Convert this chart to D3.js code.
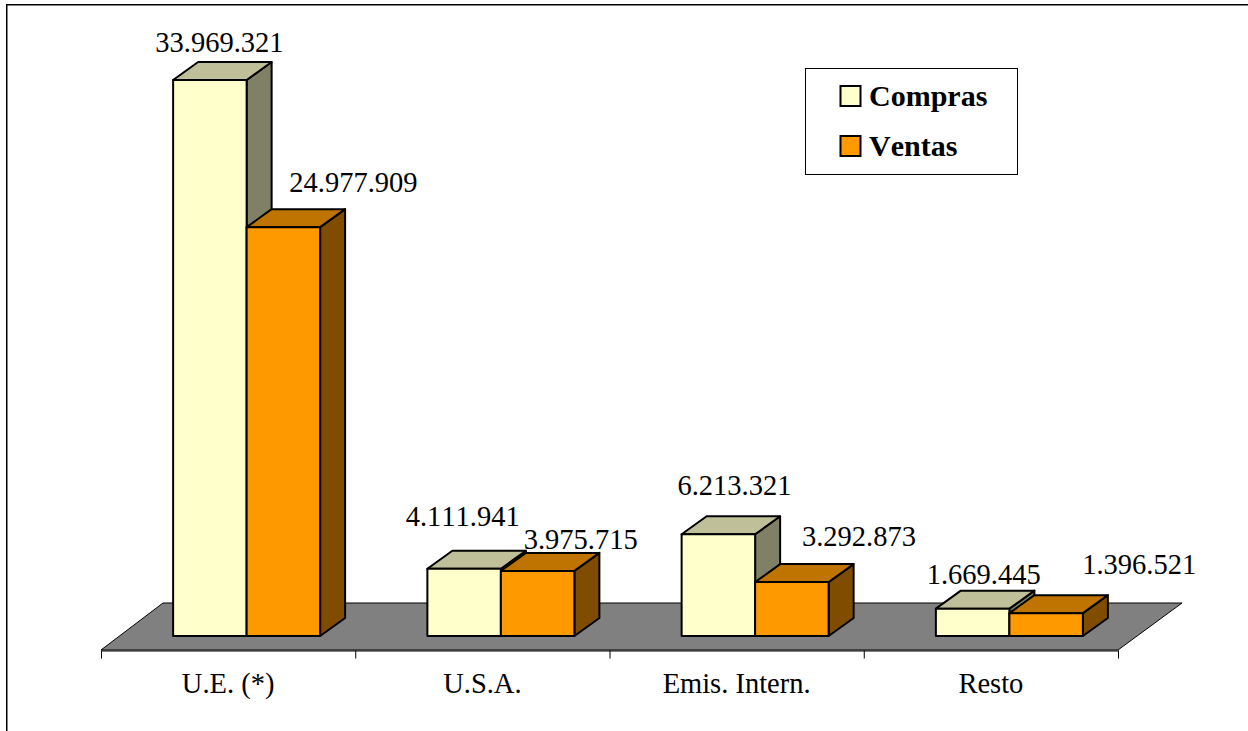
<!DOCTYPE html>
<html>
<head>
<meta charset="utf-8">
<script src="https://cdn.jsdelivr.net/npm/d3@7"></script>
<style>
  html, body { margin: 0; padding: 0; background: #fff; }
  svg { display: block; font-family: "Liberation Serif", serif; font-kerning: none; }
</style>
</head>
<body>
<svg id="chart" width="1248" height="731"></svg>
<script>
var categories = ["U.E. (*)", "U.S.A.", "Emis. Intern.", "Resto"];
var compras = [33969321, 4111941, 6213321, 1669445];
var ventas = [24977909, 3975715, 3292873, 1396521];
var comprasLabels = ["33.969.321", "4.111.941", "6.213.321", "1.669.445"];
var ventasLabels = ["24.977.909", "3.975.715", "3.292.873", "1.396.521"];
var seriesNames = ["Compras", "Ventas"];

// label offsets from the front face top centre, moved by hand like in the original
var comprasNudge = [[9.5, -28], [-1.5, -43], [16, -39], [11, -25]];
var ventasNudge = [[70, -35], [43, -22], [67, -36], [93, -39]];

var depthX = 25;
var depthY = 18;
var baseY = 636;

var colors = [
  { front: "#FFFFCC", top: "#BFBF99", side: "#808066" },
  { front: "#FF9900", top: "#BF7300", side: "#804D00" }
];

var svg = d3.select("#chart");

// frame
svg.append("path")
  .attr("d", "M6.75,731V4.75H1248")
  .attr("fill", "none")
  .attr("stroke", "#000")
  .attr("stroke-width", 1.5);

var x = d3.scaleBand().domain(categories).range([101, 1118]);
var edges = d3.scaleLinear().domain([0, categories.length]).range([101, 1118]);
var y = d3.scaleLinear().domain([0, 33969321]).range([baseY, 80]);
var barWidth = 73.5;
var barOffset = (x.bandwidth() - 2 * barWidth) / 2 + 18.5;

// floor
svg.append("path")
  .attr("d", d3.line()([[101, 650], [163, 603], [1182, 603], [1118, 650]]) + "Z")
  .attr("fill", "#808080")
  .attr("stroke", "#000")
  .attr("stroke-width", 1);

// category axis: ticks on the band edges, names in the band centres
svg.append("g")
  .attr("transform", "translate(0,650.5)")
  .call(d3.axisBottom(edges).tickValues(d3.range(categories.length + 1)).tickFormat("").tickSize(8).tickSizeOuter(0))
  .call(function (g) { g.selectAll("line").attr("stroke", "#000"); g.select(".domain").attr("stroke", "#000"); });

svg.append("g")
  .attr("transform", "translate(0,650)")
  .call(d3.axisBottom(x).tickSize(0).tickPadding(23))
  .call(function (g) {
    g.select(".domain").remove();
    g.selectAll("text")
      .attr("font-family", "Liberation Serif")
      .attr("font-size", 28.5)
      .attr("fill", "#000");
  });

function barLeft(i, s) {
  return x(categories[i]) + barOffset + s * barWidth;
}

function drawBar(g, i, s, v) {
  var x0 = barLeft(i, s);
  var x1 = x0 + barWidth;
  var yt = y(v);
  var c = colors[s];
  g.append("path")
    .attr("d", d3.line()([[x1, yt], [x1 + depthX, yt - depthY], [x1 + depthX, baseY - depthY], [x1, baseY]]) + "Z")
    .attr("fill", c.side);
  g.append("path")
    .attr("d", d3.line()([[x0, yt], [x0 + depthX, yt - depthY], [x1 + depthX, yt - depthY], [x1, yt]]) + "Z")
    .attr("fill", c.top);
  g.append("rect")
    .attr("x", x0)
    .attr("y", yt)
    .attr("width", barWidth)
    .attr("height", baseY - yt)
    .attr("fill", c.front);
}

var barsG = svg.append("g")
  .attr("stroke", "#000")
  .attr("stroke-width", 2)
  .attr("stroke-linejoin", "round");

// draw back to front so that the orange bar sits over the yellow side
categories.forEach(function (d, i) {
  drawBar(barsG, i, 0, compras[i]);
  drawBar(barsG, i, 1, ventas[i]);
});

// value labels
function addLabels(values, labels, nudge, s) {
  svg.append("g")
    .selectAll("text")
    .data(values)
    .enter()
    .append("text")
    .attr("x", function (d, i) { return barLeft(i, s) + barWidth / 2 + nudge[i][0]; })
    .attr("y", function (d, i) { return y(d) + nudge[i][1]; })
    .attr("text-anchor", "middle")
    .attr("font-size", 28.5)
    .attr("fill", "#000")
    .text(function (d, i) { return labels[i]; });
}
addLabels(compras, comprasLabels, comprasNudge, 0);
addLabels(ventas, ventasLabels, ventasNudge, 1);

// legend
var legend = svg.append("g");
legend.append("rect")
  .attr("x", 805.5)
  .attr("y", 68.5)
  .attr("width", 212)
  .attr("height", 106)
  .attr("fill", "#fff")
  .attr("stroke", "#000")
  .attr("stroke-width", 1);

var legendY = d3.scalePoint().domain(seriesNames).range([96, 146]);

seriesNames.forEach(function (name, s) {
  legend.append("rect")
    .attr("x", 840.5)
    .attr("y", legendY(name) - 10)
    .attr("width", 20)
    .attr("height", 20)
    .attr("fill", colors[s].front)
    .attr("stroke", "#000")
    .attr("stroke-width", 2);
  legend.append("text")
    .attr("x", 869)
    .attr("y", legendY(name) + 10)
    .attr("font-size", 30)
    .attr("font-weight", "bold")
    .attr("fill", "#000")
    .text(name);
});
</script>
</body>
</html>
